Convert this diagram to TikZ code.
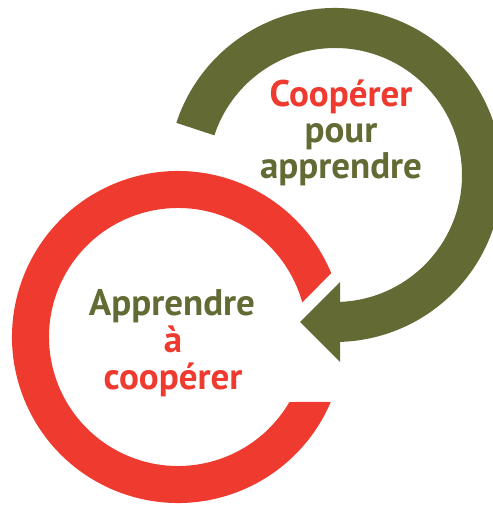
\documentclass[tikz,border=0pt]{standalone}
\usepackage{fontspec}
\setmainfont{PT Sans}
\usetikzlibrary{calc}
\definecolor{ringred}{HTML}{EE3A2F}
\definecolor{olive}{HTML}{636A33}
\begin{document}
\begin{tikzpicture}[x=1pt,y=1pt,
  lbl/.style={anchor=base, inner sep=0pt, font=\fontsize{37}{38}\selectfont\bfseries}]
\clip (0,0) rectangle (493,507);
\coordinate (rc) at (178,170);
\coordinate (gc) at (335,332);
% red ring with gap
\fill[ringred] ($(rc)+(22.6:166)$) arc[start angle=22.6,end angle=336.95,radius=166]
  -- ($(rc)+(-30.26:129)$) arc[start angle=329.74,end angle=15.6,radius=129] -- cycle;
% green arrow
\fill[olive] ($(gc)+(161.8:167)$) arc[start angle=161.8,end angle=-88.28,radius=167]
  -- (340,145) -- (300,185) -- (340,225)
  -- ($(gc)+(-87.74:127)$) arc[start angle=-87.74,end angle=161.8,radius=127] -- cycle;
% texts
\node[lbl, text=ringred] (t1) at (341,400) {Coopérer};
\node[lbl, text=olive] (t2) at (341,364) {pour};
\node[lbl, text=olive] (t3) at (341,328) {apprendre};
\node[lbl, text=olive] (t4) at (172,191) {Apprendre};
\node[lbl, text=ringred] (t5) at (173,154) {à};
\node[lbl, text=ringred] (t6) at (173,117) {coopérer};
\end{tikzpicture}
\end{document}
